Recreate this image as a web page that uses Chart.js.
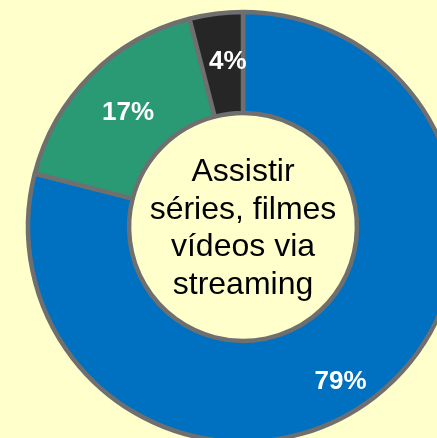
<!DOCTYPE html>
<html>
<head>
<meta charset="utf-8">
<script src="https://cdn.jsdelivr.net/npm/chart.js@4"></script>
<style>
  html, body { margin:0; padding:0; overflow:hidden; background:#FFFFCC; width:437px; height:438px; }
  #c { position:absolute; left:0; top:0; }
</style>
</head>
<body>
<canvas id="c" width="486" height="454"></canvas>
<script>
// Data
const categories = ["Sim", "Não", "Não sabe"];
const values = [79, 17, 4];
const valueLabels = ["79%", "17%", "4%"];
const centerLines = ["Assistir", "séries, filmes", "vídeos via", "streaming"];
const colors = ["#0070C0", "#2A9A74", "#262626"];

const labelsPlugin = {
  id: 'sliceLabels',
  afterDatasetsDraw(chart, args, opts) {
    const ctx = chart.ctx;
    const meta = chart.getDatasetMeta(0);
    const nudges = opts.nudges || [];
    ctx.save();
    ctx.fillStyle = '#FFFFFF';
    ctx.font = 'bold 26px "Liberation Sans", Arial, sans-serif';
    ctx.textAlign = 'center';
    ctx.textBaseline = 'middle';
    meta.data.forEach((arc, i) => {
      const p = arc.getProps(['x','y','startAngle','endAngle','innerRadius','outerRadius'], true);
      const nd = nudges[i] || { dr: 0, da: 0 };
      const mid = (p.startAngle + p.endAngle) / 2 + nd.da * Math.PI / 180;
      const r = (p.innerRadius + p.outerRadius) / 2 + nd.dr;
      ctx.fillText(valueLabels[i], p.x + Math.cos(mid) * r, p.y + Math.sin(mid) * r + 1);
    });
    // centre text
    const a = meta.data[0];
    ctx.fillStyle = '#000000';
    ctx.font = '32px "Liberation Sans", Arial, sans-serif';
    ctx.textBaseline = 'alphabetic';
    const lh = 37.7;
    const n = centerLines.length;
    centerLines.forEach((t, i) => {
      ctx.fillText(t, a.x, a.y + 10.5 + (i - (n - 1) / 2) * lh);
    });
    ctx.restore();
  }
};

new Chart(document.getElementById('c'), {
  type: 'doughnut',
  data: {
    labels: categories,
    datasets: [{
      data: values,
      backgroundColor: colors,
      borderColor: '#6F6F6F',
      borderWidth: 4.5
    }]
  },
  options: {
    responsive: false,
    animation: false,
    radius: 215,
    cutout: '53%',
    layout: { padding: 0 },
    plugins: {
      legend: { display: false },
      tooltip: { enabled: false },
      sliceLabels: { nudges: [ { dr: 17.5, da: 5.4 }, { dr: -2, da: 0 }, { dr: 2, da: 2 } ] }
    }
  },
  plugins: [labelsPlugin]
});
</script>
</body>
</html>
